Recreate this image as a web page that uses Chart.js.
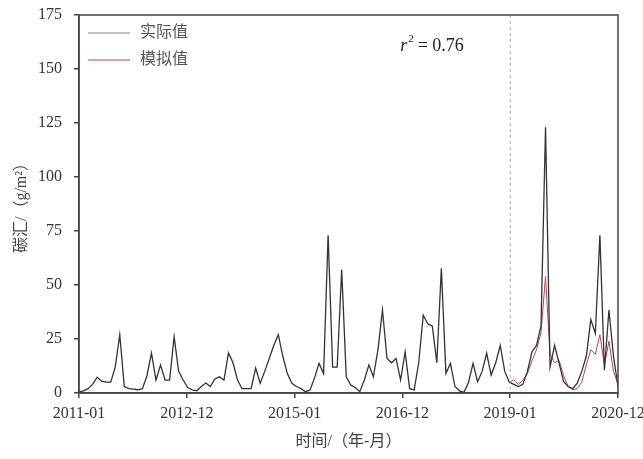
<!DOCTYPE html>
<html>
<head>
<meta charset="utf-8">
<script src="https://cdn.jsdelivr.net/npm/chart.js@4.4.1/dist/chart.umd.min.js"></script>
<style>
  html, body { margin: 0; padding: 0; background: #fff; }
  #wrap { width: 643px; height: 459px; }
</style>
</head>
<body>
<div id="wrap"><canvas id="sinkChart" width="643" height="459"></canvas></div>
<script>
// tick labels on the time axis (5 equal divisions, 2011-01 .. 2020-12)
var tickLabels = ['2011-01', '2012-12', '2015-01', '2016-12', '2019-01', '2020-12'];
var splitLabel = '2019-01';
var yTicks = [0, 25, 50, 75, 100, 125, 150, 175];

// 实际值, monthly, 2011-01 .. 2020-12
var actual = [
  0.5, 1, 2, 4, 7.3, 5.5, 5, 5, 12, 27, 3, 2,
  1.8, 1.5, 2, 8, 18.5, 6, 13, 6, 6, 26, 10, 6,
  2.5, 1.5, 1, 3, 4.6, 3, 6.5, 7.5, 6, 18.5, 14, 6,
  2, 2, 2, 11.5, 4.5, 10, 16, 22, 27, 17, 9, 4.5,
  3, 2, 0.6, 1.4, 7, 13.7, 9, 73, 12, 12, 57, 7.5,
  3.7, 2.5, 0.6, 6, 13, 7.5, 20, 38.4, 16, 14, 16, 6,
  19, 2, 1.4, 14, 36, 32, 31, 14, 57.7, 9, 13.7, 3,
  1, 0.3, 5, 13.7, 5.2, 10, 18.4, 8.3, 14, 22, 10, 5,
  4, 3, 4, 10, 19, 22, 31, 123, 12, 22, 13.7, 5.2,
  3, 2, 4.5, 10, 17, 34, 27.6, 73, 10.6, 38.4, 17, 3
];

// 模拟值, from 2018-12 on
var simulated = [
  5, 6, 4, 6, 9, 15, 20, 28, 54, 18, 14, 15,
  8, 3, 1.5, 2, 5, 13, 20, 18, 27, 13, 24, 10, 4
];
var simStart = actual.length - simulated.length;

var actualPts = actual.map(function(v, i) { return {x: i, y: v}; });
var simPts = simulated.map(function(v, i) { return {x: simStart + i, y: v}; });

var lastIdx = actual.length - 1;
var tickStep = lastIdx / (tickLabels.length - 1);

var serif = "'Liberation Serif', 'Noto Sans CJK SC', serif";
var axisColor = '#444';

var framePlugin = {
  id: 'frame',
  afterDatasetsDraw: function(chart) {
    var ctx = chart.ctx, a = chart.chartArea, xs = chart.scales.x;
    ctx.save();
    // dashed split line at 2019-01
    var sx = xs.getPixelForValue(tickLabels.indexOf(splitLabel) * tickStep);
    ctx.strokeStyle = '#aaa';
    ctx.lineWidth = 1;
    ctx.setLineDash([3, 3]);
    ctx.beginPath();
    ctx.moveTo(sx, a.top);
    ctx.lineTo(sx, a.bottom);
    ctx.stroke();
    ctx.setLineDash([]);

    // box
    ctx.strokeStyle = axisColor;
    ctx.lineWidth = 1.5;
    ctx.strokeRect(a.left, a.top, a.right - a.left, a.bottom - a.top);

    // legend
    var ds = chart.data.datasets;
    ctx.font = "16px " + serif;
    ctx.textBaseline = 'middle';
    ds.forEach(function(d, k) {
      var ly = a.top + 18 + k * 27;
      ctx.strokeStyle = d.legendColor;
      ctx.lineWidth = 1.2;
      ctx.beginPath();
      ctx.moveTo(a.left + 9, ly);
      ctx.lineTo(a.left + 51, ly);
      ctx.stroke();
      ctx.fillStyle = '#555';
      ctx.fillText(d.label, a.left + 61, ly);
    });

    // r^2 annotation
    var tx = sx - 110, ty = a.top + 31;
    ctx.fillStyle = '#222';
    ctx.font = "italic 18px " + serif;
    ctx.fillText('r', tx, ty);
    var w = ctx.measureText('r').width;
    ctx.font = "11px " + serif;
    ctx.fillText('2', tx + w + 1, ty - 7);
    ctx.font = "18px " + serif;
    ctx.fillText(' = 0.76', tx + w + 6, ty);
    ctx.restore();
  }
};

var ctx = document.getElementById('sinkChart').getContext('2d');
var myChart = new Chart(ctx, {
  type: 'line',
  data: {
    datasets: [
      {
        label: '实际值',
        data: actualPts,
        borderColor: '#333',
        legendColor: '#888',
        borderWidth: 1.3,
        pointRadius: 0,
        tension: 0,
        fill: false
      },
      {
        label: '模拟值',
        data: simPts,
        borderColor: '#c0404e',
        legendColor: '#c0404e',
        borderWidth: 1,
        pointRadius: 0,
        tension: 0,
        fill: false
      }
    ]
  },
  options: {
    responsive: false,
    animation: false,
    layout: { padding: { left: 0, right: 25, top: 15, bottom: 0 } },
    plugins: {
      legend: { display: false },
      tooltip: { enabled: false }
    },
    scales: {
      x: {
        type: 'linear',
        min: 0,
        max: lastIdx,
        afterBuildTicks: function(scale) {
          scale.ticks = tickLabels.map(function(l, k) { return {value: k * tickStep}; });
        },
        afterFit: function(scale) {
          scale.height = 66;
          scale.paddingLeft = 0;
          scale.paddingRight = 0;
        },
        ticks: {
          autoSkip: false,
          maxRotation: 0,
          padding: 6,
          color: '#333',
          font: { family: serif, size: 16 },
          callback: function(v, i) { return tickLabels[i]; }
        },
        grid: { drawOnChartArea: false, drawTicks: true, tickLength: 5, color: axisColor, lineWidth: 1.5 },
        border: { display: true, color: axisColor, width: 1.5 },
        title: {
          display: true,
          text: '时间/（年-月）',
          color: '#444',
          font: { family: serif, size: 16 },
          padding: { top: 4, bottom: 8 }
        }
      },
      y: {
        min: 0,
        max: 175,
        afterBuildTicks: function(scale) {
          scale.ticks = yTicks.map(function(v) { return {value: v}; });
        },
        afterFit: function(scale) {
          scale.width = 79;
          scale.paddingTop = 0;
          scale.paddingBottom = 0;
        },
        ticks: {
          padding: 12,
          color: '#333',
          font: { family: serif, size: 16 }
        },
        grid: { drawOnChartArea: false, drawTicks: true, tickLength: 5, color: axisColor, lineWidth: 1.5 },
        border: { display: true, color: axisColor, width: 1.5 },
        title: {
          display: true,
          text: '碳汇/（g/m²）',
          color: '#444',
          font: { family: serif, size: 16 },
          padding: { top: 12, bottom: 4 }
        }
      }
    }
  },
  plugins: [framePlugin]
});
</script>
</body>
</html>
